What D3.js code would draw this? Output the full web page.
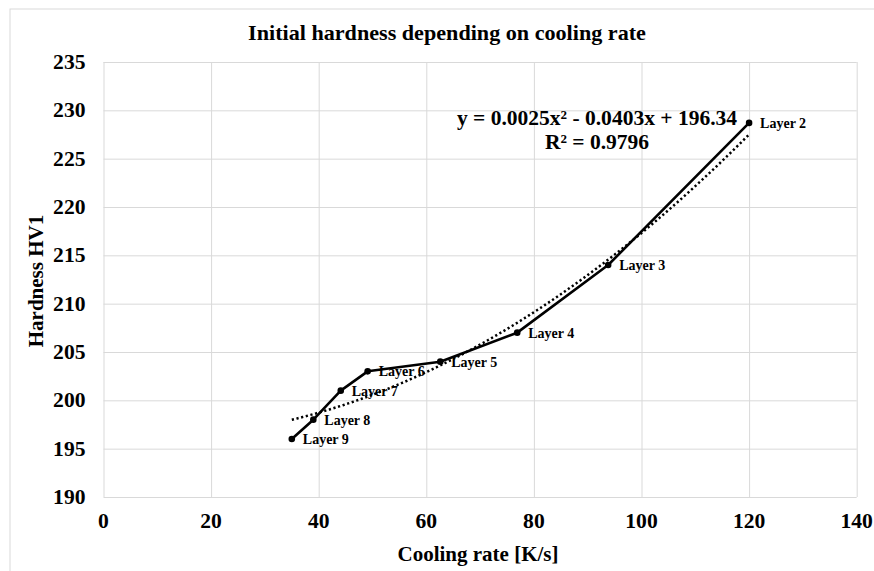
<!DOCTYPE html>
<html>
<head>
<meta charset="utf-8">
<script src="https://cdn.jsdelivr.net/npm/d3@7"></script>
<style>
body { margin: 0; background: #fff; }
text { font-family: "Liberation Serif", "Times New Roman", serif; font-weight: bold; fill: #000; }
</style>
</head>
<body>
<svg id="chart" width="874" height="571"></svg>
<script>
// data
var layerNames = ["Layer 2", "Layer 3", "Layer 4", "Layer 5", "Layer 6", "Layer 7", "Layer 8", "Layer 9"];
var coolingRate = [120, 93.8, 76.9, 62.6, 49.1, 44.1, 39, 35];
var hardness = [228.7, 214, 207, 204, 203, 201, 198, 196];
var xTicks = [0, 20, 40, 60, 80, 100, 120, 140];
var yTicks = [190, 195, 200, 205, 210, 215, 220, 225, 230, 235];
var trendCoef = [0.0025, -0.0403, 196.34]; // shown on the chart
var trendText = ["y = 0.0025x\u00b2 - 0.0403x + 196.34", "R\u00b2 = 0.9796"];

var svg = d3.select("#chart");
var plotL = 103.5, plotR = 856.7, plotT = 62, plotB = 497;

var x = d3.scaleLinear().domain([0, 140]).range([plotL, plotR]);
var y = d3.scaleLinear().domain([190, 235]).range([plotB, plotT]);

// the reference font runs a little wider than Liberation Serif
function widen(sel, k) {
	sel.each(function() {
		var t = d3.select(this);
		var tx = +t.attr("x"), ty = +t.attr("y");
		t.attr("x", 0).attr("y", 0)
			.attr("transform", "translate(" + tx + "," + ty + ") scale(" + k + ",1)");
	});
}

// chart area border
svg.append("rect")
	.attr("x", 10).attr("y", 9)
	.attr("width", 900).attr("height", 600)
	.attr("fill", "none")
	.attr("stroke", "#d9d9d9");

// grid
svg.append("g")
	.attr("transform", "translate(0," + plotB + ")")
	.call(d3.axisBottom(x).tickValues(xTicks).tickSize(-(plotB - plotT)).tickFormat(""))
	.call(function(g) {
		g.select(".domain").remove();
		g.selectAll("line").attr("stroke", "#d9d9d9").attr("stroke-width", 1);
	});
svg.append("g")
	.attr("transform", "translate(" + plotL + ",0)")
	.call(d3.axisLeft(y).tickValues(yTicks).tickSize(-(plotR - plotL)).tickFormat(""))
	.call(function(g) {
		g.select(".domain").remove();
		g.selectAll("line").attr("stroke", "#d9d9d9").attr("stroke-width", 1);
	});

// tick labels
svg.selectAll(".xlab")
	.data(xTicks)
	.enter()
	.append("text")
	.attr("class", "xlab")
	.attr("x", function(d) { return x(d); })
	.attr("y", 528)
	.attr("text-anchor", "middle")
	.style("font-size", "20px")
	.text(function(d) { return d; })
	.call(widen, 1.08);
svg.selectAll(".ylab")
	.data(yTicks)
	.enter()
	.append("text")
	.attr("class", "ylab")
	.attr("x", 85.5)
	.attr("y", function(d) { return y(d) + 7; })
	.attr("text-anchor", "end")
	.style("font-size", "20px")
	.text(function(d) { return d; })
	.call(widen, 1.08);

// titles
svg.append("text")
	.attr("x", 447).attr("y", 40)
	.attr("text-anchor", "middle")
	.style("font-size", "21.5px")
	.text("Initial hardness depending on cooling rate")
	.call(widen, 1.03);
svg.append("text")
	.attr("x", 478).attr("y", 561)
	.attr("text-anchor", "middle")
	.style("font-size", "21px")
	.text("Cooling rate [K/s]");
svg.append("text")
	.attr("transform", "translate(43,281) rotate(-90)")
	.attr("text-anchor", "middle")
	.style("font-size", "21px")
	.text("Hardness HV1");

// trendline from the coefficients
var xMin = d3.min(coolingRate), xMax = d3.max(coolingRate);
var trendPts = d3.range(xMin, xMax + 0.01, 0.5).map(function(v) {
	return [v, trendCoef[0] * v * v + trendCoef[1] * v + trendCoef[2]];
});
svg.append("path")
	.datum(trendPts)
	.attr("fill", "none")
	.attr("stroke", "#000")
	.attr("stroke-width", 2.5)
	.attr("stroke-dasharray", "2.2,2.6")
	.attr("d", d3.line().x(function(d) { return x(d[0]); }).y(function(d) { return y(d[1]); }));

// series
var pts = coolingRate.map(function(v, i) { return [v, hardness[i], layerNames[i]]; });
svg.append("path")
	.datum(pts)
	.attr("fill", "none")
	.attr("stroke", "#000")
	.attr("stroke-width", 2.6)
	.attr("stroke-linejoin", "round")
	.attr("d", d3.line().x(function(d) { return x(d[0]); }).y(function(d) { return y(d[1]); }));
svg.selectAll(".pt")
	.data(pts)
	.enter()
	.append("circle")
	.attr("class", "pt")
	.attr("cx", function(d) { return x(d[0]); })
	.attr("cy", function(d) { return y(d[1]); })
	.attr("r", 3.3)
	.attr("fill", "#000");
svg.selectAll(".ptlab")
	.data(pts)
	.enter()
	.append("text")
	.attr("class", "ptlab")
	.attr("x", function(d) { return x(d[0]) + 11; })
	.attr("y", function(d) { return y(d[1]) + 5; })
	.style("font-size", "14px")
	.text(function(d) { return d[2]; });

// equation
svg.selectAll(".eq")
	.data(trendText)
	.enter()
	.append("text")
	.attr("class", "eq")
	.attr("x", 597)
	.attr("y", function(d, i) { return 125 + i * 24; })
	.attr("text-anchor", "middle")
	.style("font-size", "21px")
	.text(function(d) { return d; })
	.call(widen, 1.025);
</script>
</body>
</html>
